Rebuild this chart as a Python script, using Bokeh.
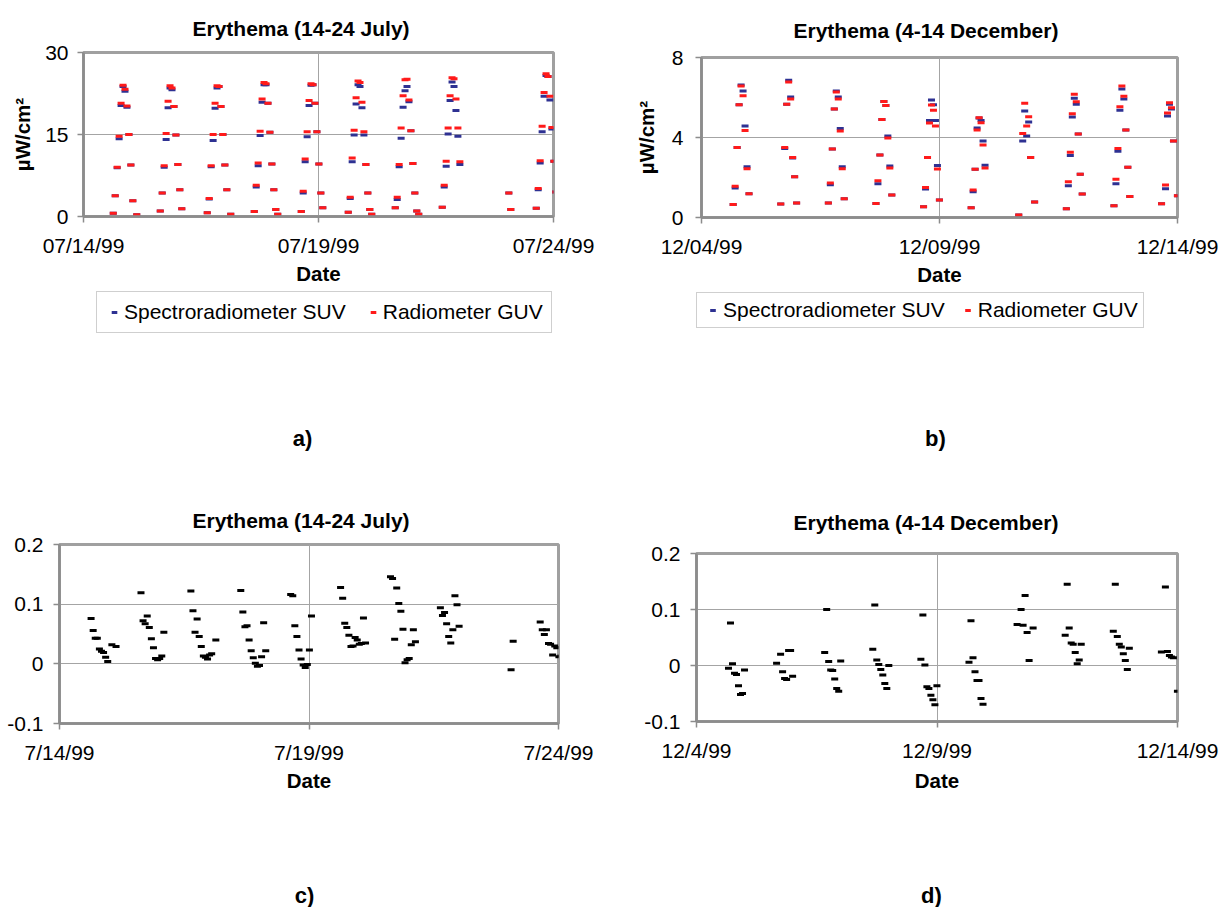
import numpy as np
from bokeh.plotting import figure
from bokeh.models import Range1d, FixedTicker, Legend, LegendItem
from bokeh.layouts import column, row
from bokeh.core.properties import value
from bokeh.embed import file_html
from bokeh.resources import INLINE

# ---------------- data ----------------
# x axis: days since the first tick date; each day's cluster is hourly
july_tick_labels_ab = ["07/14/99", "07/19/99", "07/24/99"]
dec_tick_labels_ab = ["12/04/99", "12/09/99", "12/14/99"]
july_tick_labels_cd = ["7/14/99", "7/19/99", "7/24/99"]
dec_tick_labels_cd = ["12/4/99", "12/9/99", "12/14/99"]
date_ticks = [0, 5, 10]
series_names = ["Spectroradiometer SUV", "Radiometer GUV"]

july_days = [0, 1, 2, 3, 4, 5, 6, 7, 8, 9]
dec_days = [0, 1, 2, 3, 4, 5, 6, 7, 8, 9]
july_first_hour = 0.633   # fraction of day of the first hourly value
dec_first_hour = 0.665

N = None
# a) Erythema July, uW/cm2, hourly values per day
july_suv = [
    [0.6, 3.8, 8.9, 14.2, 20.3, 23.8, 22.9, 20.0, 15.0, 9.4, 2.9, N, 0.3],
    [1.0, 4.3, 9.0, 14.1, 19.9, 23.5, 23.2, 20.1, 14.9, 9.5, 4.9, 1.4],
    [0.7, 3.2, 9.1, 13.9, 19.8, 23.5, 23.8, 20.1, 15.0, 9.4, 4.9, N, 0.4],
    [0.9, 5.4, 9.3, 14.8, 20.9, 24.1, 24.1, 20.7, 15.4, 9.6, 4.9, 1.3, 0.4],
    [0.9, 4.3, 10.0, 14.6, 20.3, 24.0, 24.1, 20.7, 15.5, 9.6, 4.3, 1.6],
    [0.8, 3.3, 10.0, 14.9, 20.6, 24.1, 23.8, 19.9, 14.9, 9.5, 4.3, 1.3, 0.4],
    [1.6, 3.1, 9.1, 14.3, 20.0, 23.0, 23.8, 21.0, 15.7, 9.7, 4.3, 1.0, 0.4],
    [1.7, 5.4, 9.2, 15.1, 21.2, 24.6, 23.8, 19.4, 14.7, 9.5],
    [N, N, N, N, N, N, N, N, N, N, 4.3, 1.3],
    [1.5, 4.9, 9.8, 15.5, 22.0, 25.8, 25.6, 21.3, 16.0, 10.1, 4.5],
]
july_guv = [
    [0.6, 3.8, 9.0, 14.7, 20.7, 24.0, 23.3, 20.2, 15.0, 9.4, 2.9, N, 0.3],
    [1.0, 4.3, 9.3, 15.2, 21.1, 23.9, 23.5, 20.1, 14.9, 9.5, 4.9, 1.4],
    [0.7, 3.3, 9.3, 15.0, 20.7, 23.9, 23.8, 20.1, 15.0, 9.4, 4.9, N, 0.4],
    [0.9, 5.7, 9.8, 15.6, 21.5, 24.5, 24.3, 20.7, 15.4, 9.6, 4.9, 1.3, 0.4],
    [0.9, 4.6, 10.5, 15.5, 21.2, 24.3, 24.1, 20.7, 15.5, 9.6, 4.3, 1.6],
    [0.8, 3.5, 10.7, 15.8, 21.7, 24.8, 24.5, 20.9, 15.5, 9.5, 4.3, 1.3, 0.4],
    [1.6, 3.5, 9.5, 16.2, 22.1, 25.0, 25.1, 21.3, 15.7, 9.7, 4.3, 1.0, 0.4],
    [1.7, 5.7, 10.1, 16.2, 22.1, 25.4, 25.2, 21.5, 16.2, 10.0],
    [N, N, N, N, N, N, N, N, N, N, 4.3, 1.3],
    [1.5, 5.1, 10.2, 16.5, 22.7, 26.1, 25.6, 22.0, 16.3, 10.1, 4.5],
]
# b) Erythema December, uW/cm2
dec_suv = [
    [0.65, 1.47, 3.5, 5.64, 6.63, 6.33, 4.57, 2.54, 1.19],
    [0.67, N, 3.45, 5.66, 6.86, 6.03, 2.98, 2.04, 0.72],
    [0.72, 1.64, 3.43, 5.42, 6.33, 6.03, 4.45, 2.54, 0.94],
    [0.70, 1.69, 3.13, 4.9, 5.8, 5.6, 4.08, 2.58, 1.12],
    [0.54, 1.42, 3.0, 4.85, 5.87, 5.64, 4.85, 2.6, 0.87],
    [0.49, 1.29, 2.41, 4.47, 4.97, 4.85, 3.82, 2.61],
    [0.12, N, 3.83, 5.32, 4.07, 4.77, 3.0, N, 0.77],
    [0.44, 1.59, 3.1, 5.02, 5.96, 5.66, 4.18, 2.16, 1.17],
    [0.59, 1.69, 3.31, 5.36, 6.43, 5.92, 4.37, 2.51, 1.05],
    [0.69, N, 1.44, 5.07, 5.66, 5.42, 3.83, N, 1.09],
]
dec_guv = [
    [0.65, 1.56, 3.5, 5.64, 6.58, 6.09, 4.35, 2.44, 1.19],
    [0.67, N, 3.5, 5.66, 6.78, 5.92, 3.0, 2.04, 0.72],
    [0.72, 1.72, 3.43, 5.42, 6.28, 5.92, 4.32, 2.44, 0.94],
    [0.70, 1.84, 3.13, 4.9, 5.8, 5.6, 3.98, 2.48, 1.12],
    [0.54, 1.5, 3.0, 4.72, 5.62, 5.36, 4.57, 2.43, 0.87],
    [0.49, 1.37, 2.41, 4.38, 4.99, 4.74, 3.62, 2.48],
    [0.12, N, 4.2, 5.71, 4.57, 5.04, 3.0, N, 0.77],
    [0.44, 1.79, 3.26, 5.19, 6.16, 5.79, 4.18, 2.16, 1.17],
    [0.59, 1.91, 3.45, 5.54, 6.58, 6.06, 4.37, 2.51, 1.05],
    [0.69, N, 1.62, 5.22, 5.74, 5.49, 3.83, N, 1.09],
]
# c) relative difference, July
july_ratio = [
    [0.076, 0.056, 0.043, 0.043, 0.025, 0.021, 0.019, 0.011, 0.004, N, 0.032, N, 0.029],
    [0.119, 0.072, 0.067, 0.080, 0.061, 0.042, 0.027, 0.009, 0.007, 0.009, 0.013, 0.053],
    [0.122, 0.089, 0.053, 0.075, 0.046, 0.029, 0.013, 0.011, 0.008, 0.015, 0.017, N, 0.040],
    [0.123, 0.087, 0.062, 0.064, 0.040, 0.022, 0.010, 0.001, -0.004, -0.003, 0.012, 0.069, 0.022],
    [0.116, 0.114, 0.064, 0.046, 0.023, 0.008, -0.002, -0.006, -0.001, 0.023, 0.080],
    [0.128, 0.110, 0.068, 0.061, 0.048, 0.029, 0.030, 0.044, 0.040, 0.033, 0.034, 0.077, 0.035],
    [0.146, 0.143, 0.041, 0.127, 0.101, 0.088, 0.058, 0.002, 0.007, 0.009, 0.032, 0.057, 0.037],
    [0.094, 0.081, 0.086, 0.067, 0.046, 0.035, 0.057, 0.114, 0.099, 0.063],
    [N, N, N, N, N, N, N, N, N, N, -0.010, 0.038],
    [0.070, 0.057, 0.049, 0.057, 0.034, 0.033, 0.015, 0.030, 0.027, 0.012, 0.013],
]
# d) relative difference, December
dec_ratio = [
    [-0.005, 0.076, 0.003, -0.014, -0.016, -0.036, -0.052, -0.050, -0.008],
    [0.004, N, 0.020, -0.011, -0.023, -0.025, 0.027, 0.027, -0.019],
    [0.023, 0.100, 0.007, -0.008, -0.009, -0.024, -0.041, -0.046, 0.008],
    [0.029, 0.108, 0.010, 0.002, -0.007, -0.017, -0.032, -0.041, 0.000],
    [0.011, 0.090, 0.001, -0.038, -0.041, -0.053, -0.061, -0.070, -0.036],
    [0.006, 0.080, 0.014, -0.011, -0.027, -0.027, -0.059, -0.069],
    [0.073, N, 0.100, 0.072, 0.125, 0.059, 0.009, N, 0.067],
    [0.054, 0.145, 0.067, 0.040, 0.038, 0.023, 0.003, 0.010, 0.038],
    [0.061, 0.145, 0.052, 0.038, 0.033, 0.021, 0.009, -0.007, 0.031],
    [0.024, N, 0.140, 0.025, 0.018, 0.015, 0.014, N, -0.046],
]

# ---------------- helpers ----------------
FONT = "Liberation Sans"
AXIS_GRAY = "#8c8c8c"
FRAME_GRAY = "#a0a0a0"
GRID = "#a4a4a4"
SUV_COLOR = "#2e3192"
GUV_COLOR = "#ff1a1a"


def flatten(days, first, values):
    xs, ys = [], []
    for d, vals in zip(days, values):
        for k, v in enumerate(vals):
            if v is not None:
                xs.append(d + first + k / 24.0)
                ys.append(v)
    return xs, ys


def make_fig(w, h, left, right, top, bottom, yr, title, toff, tstand):
    p = figure(width=w, height=h, x_range=Range1d(0, 10), y_range=Range1d(*yr),
               output_backend="svg", toolbar_location=None, tools="",
               min_border_left=left, min_border_right=right,
               min_border_top=top, min_border_bottom=bottom)
    p.title.text = title
    p.title.align = "left"
    p.title.offset = toff
    p.title.standoff = tstand
    p.title.text_font = FONT
    p.title.text_font_size = "21px"
    p.title.text_font_style = "bold"
    p.title.text_color = "black"
    p.outline_line_color = FRAME_GRAY
    p.outline_line_width = 3
    p.background_fill_color = "white"
    p.border_fill_color = "white"
    return p


def style(p, xlabels, yticks, ylabels, ygrid, tick_standoff, date_standoff,
          ylabel=None, ylabel_standoff=5):
    p.xaxis.ticker = FixedTicker(ticks=date_ticks)
    p.xaxis.major_label_overrides = dict(zip(date_ticks, xlabels))
    p.yaxis.ticker = FixedTicker(ticks=yticks)
    p.yaxis.major_label_overrides = dict(zip(yticks, ylabels))
    for ax in (p.xaxis[0], p.yaxis[0]):
        ax.axis_line_color = AXIS_GRAY
        ax.axis_line_width = 2.5
        ax.major_tick_line_color = AXIS_GRAY
        ax.major_tick_line_width = 1.5
        ax.major_tick_out = 6
        ax.major_tick_in = 0
        ax.minor_tick_out = 0
        ax.minor_tick_in = 0
        ax.major_label_text_font = FONT
        ax.major_label_text_font_size = "21px"
        ax.major_label_text_color = "black"
        ax.axis_label_text_font = FONT
        ax.axis_label_text_font_size = "20.5px"
        ax.axis_label_text_font_style = "bold"
        ax.axis_label_text_color = "black"
    p.xaxis.major_label_standoff = 11
    p.yaxis.major_label_standoff = tick_standoff
    p.xaxis.axis_label = "Date"
    p.xaxis.axis_label_standoff = date_standoff
    if ylabel:
        p.yaxis.axis_label = ylabel
        p.yaxis.axis_label_standoff = ylabel_standoff
    p.xgrid.ticker = FixedTicker(ticks=[5])
    p.ygrid.ticker = FixedTicker(ticks=ygrid)
    for g in (p.xgrid[0], p.ygrid[0]):
        g.grid_line_color = GRID
        g.grid_line_width = 1


def strip(w, h, letter, cx, cy, legend=None):
    """Blank strip holding the legend (optional) and the panel letter."""
    p = figure(width=w, height=h, x_range=Range1d(0, w), y_range=Range1d(0, h),
               output_backend="svg", toolbar_location=None, tools="",
               x_axis_type=None, y_axis_type=None, min_border=0)
    p.grid.visible = False
    p.outline_line_color = None
    p.background_fill_color = "white"
    p.border_fill_color = "white"
    if legend is not None:
        loc, pad, gw, stand, spacing = legend
        # legend proxies (one undrawn NaN point each, so the legend draws the glyph)
        nan = np.array([np.nan])
        r1 = p.scatter(nan, nan, marker="dash", size=7, line_width=3, line_color=SUV_COLOR)
        r2 = p.scatter(nan, nan, marker="dash", size=7, line_width=3, line_color=GUV_COLOR)
        leg = Legend(items=[LegendItem(label=series_names[0], renderers=[r1]),
                            LegendItem(label=series_names[1], renderers=[r2])],
                     orientation="horizontal", location=loc,
                     label_text_font=FONT, label_text_font_size="21px",
                     label_text_color="black", label_height=14,
                     border_line_color=FRAME_GRAY, border_line_width=1,
                     glyph_width=gw, glyph_height=14, label_standoff=stand,
                     spacing=spacing, padding=pad, margin=0, background_fill_alpha=1)
        p.add_layout(leg)
    p.text(x=[cx], y=[h - cy], text=[letter], text_font=value(FONT),
           text_font_size="22px", text_font_style="bold", text_color="black",
           text_align="center", text_baseline="middle")
    return p


# ---------------- panel a ----------------
pa = make_fig(604, 290, 83, 51, 52, 74, (0, 30), "Erythema (14-24 July)", 109, 26)
style(pa, july_tick_labels_ab, [0, 15, 30], ["0", "15", "30"], [15], 9, 2,
      "\u00b5W/cm\u00b2", 8)
xs, ys = flatten(july_days, july_first_hour, july_suv)
pa.scatter(xs, ys, marker="dash", size=7, line_width=3, line_color=SUV_COLOR)
xs, ys = flatten(july_days, july_first_hour, july_guv)
pa.scatter(xs, ys, marker="dash", size=7, line_width=3, line_color=GUV_COLOR)

# ---------------- panel b ----------------
pb = make_fig(617, 290, 97, 44, 57, 73, (0, 8), "Erythema (4-14 December)", 92, 31)
style(pb, dec_tick_labels_ab, [0, 4, 8], ["0", "4", "8"], [4], 12, 2,
      "\u00b5W/cm\u00b2", 11)
xs, ys = flatten(dec_days, dec_first_hour, dec_suv)
pb.scatter(xs, ys, marker="dash", size=7, line_width=3, line_color=SUV_COLOR)
xs, ys = flatten(dec_days, dec_first_hour, dec_guv)
pb.scatter(xs, ys, marker="dash", size=7, line_width=3, line_color=GUV_COLOR)

# ---------------- legends + letters a), b) ----------------
sa = strip(604, 166, "a)", 302, 148, legend=((96, 123), 8, 18, 1, 18))
sb = strip(617, 166, "b)", 331, 148, legend=((92, 128), 5, 21, 0, 12))

# ---------------- panel c ----------------
pc = make_fig(604, 404, 59, 46, 88, 137, (-0.1, 0.2), "Erythema (14-24 July)", 133, 26)
style(pc, july_tick_labels_cd, [-0.1, 0, 0.1, 0.2], ["-0.1", "0", "0.1", "0.2"],
      [0, 0.1], 10, 2)
xs, ys = flatten(july_days, july_first_hour, july_ratio)
pc.scatter(xs, ys, marker="dash", size=7, line_width=3, line_color="black")

# ---------------- panel d ----------------
pd_ = make_fig(617, 404, 92, 44, 97, 139, (-0.1, 0.2), "Erythema (4-14 December)", 97, 40)
style(pd_, dec_tick_labels_cd, [-0.1, 0, 0.1, 0.2], ["-0.1", "0", "0.1", "0.2"],
      [0, 0.1], 10, 4)
xs, ys = flatten(dec_days, dec_first_hour, dec_ratio)
pd_.scatter(xs, ys, marker="dash", size=7, line_width=3, line_color="black")

# ---------------- letters c), d) ----------------
lc = strip(604, 47, "c)", 304, 35)
ld = strip(617, 47, "d)", 327, 35)

layout = column(row(column(pa), column(pb)), row(sa, sb),
                row(column(pc), column(pd_)), row(lc, ld))
open("out.html", "w").write(file_html(layout, INLINE))
